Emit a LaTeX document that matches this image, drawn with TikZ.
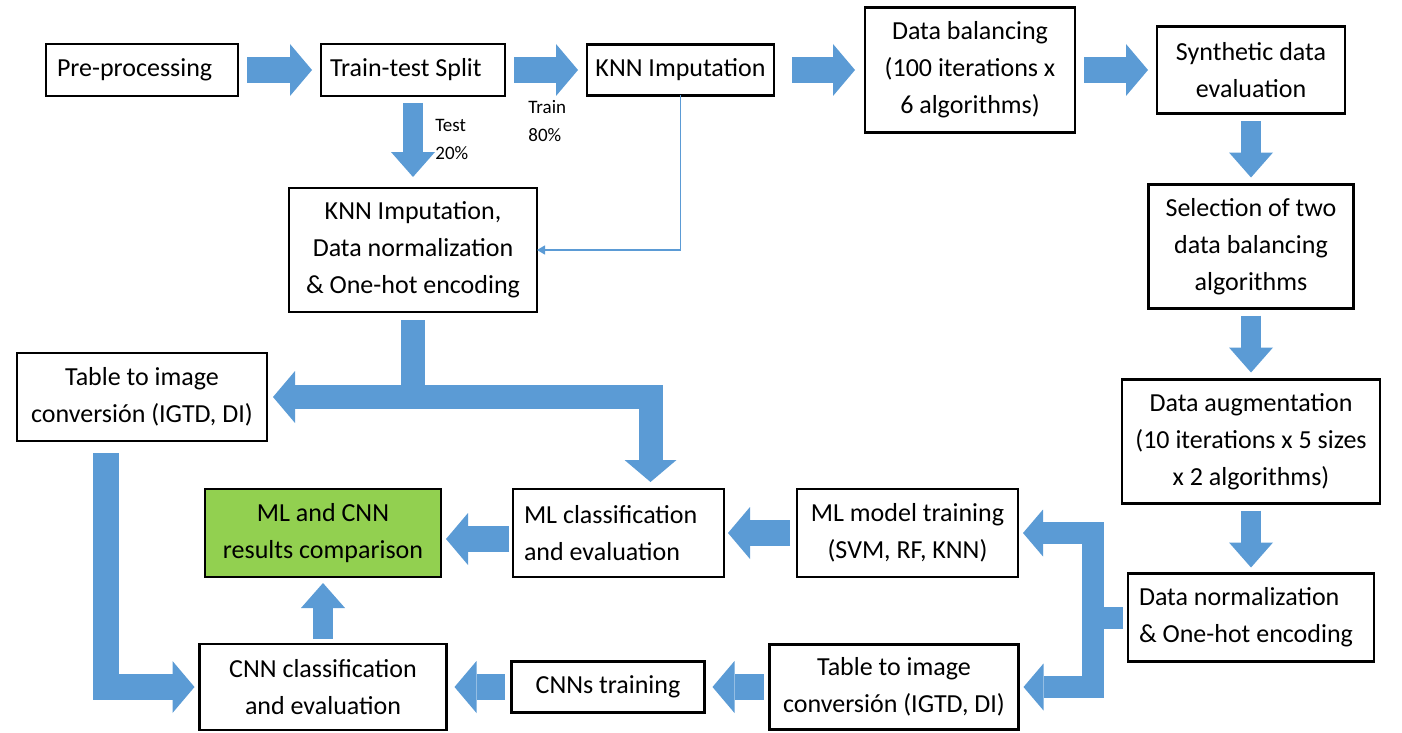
\documentclass[tikz,border=0pt]{standalone}
\usepackage{fontspec}
\setmainfont{Carlito}
\usepackage{tikz}
\usetikzlibrary{positioning, arrows.meta}

\begin{document}
\begin{tikzpicture}[
    x=0.5pt, y=-0.5pt,
    font=\fontsize{13pt}{18.5pt}\selectfont,
    box/.style={rectangle, draw=black, line width=1.3pt, fill=white,
        align=center, inner sep=0pt, outer sep=0pt},
    lbox/.style={box, align=flush left, inner xsep=5.5pt},
    flow/.style={draw=flowblue, line width=13pt,
        -{Triangle[width=26pt, length=11pt, line width=0pt]},
        shorten <=4.5pt, shorten >=4.5pt},
    dflow/.style={flow, line width=10pt,
        -{Triangle[width=22pt, length=12.5pt, line width=0pt]}},
    fork/.style={flow, line width=11pt,
        -{Triangle[width=23.5pt, length=10pt, line width=0pt]},
        shorten <=2.5pt, shorten >=2.5pt},
    thinflow/.style={draw=flowblue, line width=0.7pt,
        -{Triangle[width=4.5pt, length=4pt]}},
    lbl/.style={font=\fontsize{9.5pt}{14pt}\selectfont, align=flush left, inner sep=0pt},
]

% ── Colors ──
\definecolor{flowblue}{HTML}{5B9BD5}
\definecolor{resgreen}{HTML}{92D050}

\useasboundingbox (0,0) rectangle (1402,733);

% ══════════════════════════════════════════════
% Top row
% ══════════════════════════════════════════════
\node[lbox, text width=85pt, minimum height=26pt] (pre) at (142,70) {Pre-processing};
\node[lbox, text width=83pt, inner xsep=4.5pt, minimum height=26pt,
    right=41.5pt of pre] (split) {Train-test Split};
\node[box, minimum width=93.5pt, minimum height=25.5pt,
    right=41pt of split] (knn) {KNN Imputation};
\node[box, minimum width=105pt, minimum height=62.5pt,
    right=45.5pt of knn] (balance) {Data balancing\\(100 iterations x\\6 algorithms)};
\node[box, minimum width=94pt, minimum height=43.5pt,
    right=41pt of balance] (synth) {Synthetic data\\evaluation};

% ══════════════════════════════════════════════
% Right column
% ══════════════════════════════════════════════
\node[box, minimum width=102.5pt, minimum height=62pt,
    below=35.5pt of synth] (select) {Selection of two\\data balancing\\algorithms};
\node[box, minimum width=129pt, minimum height=62pt,
    below=35.5pt of select] (augment) {Data augmentation\\(10 iterations x 5 sizes\\x 2 algorithms)};
\node[lbox, text width=112pt, minimum height=44pt,
    below=35pt of augment] (norm) {Data normalization\\\& One-hot encoding};

% ══════════════════════════════════════════════
% Test branch (left)
% ══════════════════════════════════════════════
\node[box, minimum width=124pt, minimum height=62pt] (knntest) at (413,250)
    {KNN Imputation,\\Data normalization\\\& One-hot encoding};
\node[box, minimum width=125pt, minimum height=44pt] (tabtest) at (142,397)
    {Table to image\\conversión (IGTD, DI)};

% ══════════════════════════════════════════════
% ML row
% ══════════════════════════════════════════════
\node[box, minimum width=110.5pt, minimum height=44pt] (mltrain) at (907.5,533)
    {ML model training\\(SVM, RF, KNN)};
\node[lbox, text width=94.5pt, minimum height=44pt,
    left=36.5pt of mltrain] (mlclass) {ML classification\\and evaluation};
\node[box, fill=resgreen, minimum width=118pt, minimum height=44pt,
    left=36pt of mlclass] (results) {ML and CNN\\results comparison};

% ══════════════════════════════════════════════
% CNN row
% ══════════════════════════════════════════════
\node[box, minimum width=123.5pt, minimum height=43pt,
    below=33.5pt of results] (cnnclass) {CNN classification\\and evaluation};
\node[box, minimum width=96.5pt, minimum height=25.5pt,
    right=32.5pt of cnnclass] (cnntrain) {CNNs training};
\node[box, minimum width=124.5pt, minimum height=42.5pt,
    right=32.5pt of cnntrain] (tabtrain) {Table to image\\conversión (IGTD, DI)};

% ══════════════════════════════════════════════
% Split labels
% ══════════════════════════════════════════════
\node[lbl, anchor=west] (testlbl) at (435,139) {Test\\20\%};
\node[lbl, anchor=west] (trainlbl) at (528,121) {Train\\80\%};

% ══════════════════════════════════════════════
% Block arrows
% ══════════════════════════════════════════════
\draw[flow] (pre) -- (split);
\draw[flow] (split) -- (knn);
\draw[flow, shorten <=9pt, shorten >=5pt] (knn) -- (balance);
\draw[flow] (balance) -- (synth);
\draw[dflow, shorten <=4pt, shorten >=3.5pt] (synth) -- (select);
\draw[dflow, shorten <=3.5pt, shorten >=3.5pt] (select) -- (augment);
\draw[dflow, shorten <=3.5pt, shorten >=3pt] (augment) -- (norm);
\draw[dflow, shorten <=3.5pt, shorten >=5.5pt] (split) -- (knntest);

% train imputer reused on test set
\draw[thinflow] (knn.south) |- (knntest.east);

% test set: table conversion and ML evaluation
\coordinate (tee) at (knntest.south |- tabtest.east);
\draw[flow, line width=12pt, shorten <=4pt, shorten >=3pt] (knntest.south) |- (tabtest.east);
\draw[flow, line width=12pt, shorten <=0pt, shorten >=3.5pt] (tee) -| ([xshift=16pt]mlclass.north);
\draw[flow, shorten <=6pt, shorten >=2.5pt] ([xshift=-18pt]tabtest.south) |- (cnnclass.west);

% augmented train set to both pipelines
\draw[fork] (norm.west) -- ++(-35,0) |- (mltrain.east);
\draw[fork] (norm.west) -- ++(-35,0) |- (tabtrain.east);

\draw[flow, shorten <=3.5pt, shorten >=2pt] (mltrain) -- (mlclass);
\draw[flow, shorten <=2pt, shorten >=2.5pt] ([yshift=-3pt]mlclass.west) -- ([yshift=-3pt]results.east);
\draw[flow, shorten <=3pt, shorten >=4pt] (tabtrain) -- (cnntrain);
\draw[flow, shorten <=3.5pt, shorten >=4pt] (cnntrain) -- (cnnclass);
\draw[dflow, shorten <=2.5pt, shorten >=3pt] (cnnclass) -- (results);

\end{tikzpicture}
\end{document}
